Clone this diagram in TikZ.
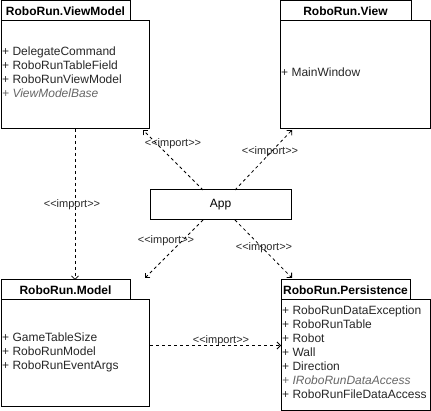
\documentclass[tikz,border=0pt]{standalone}
\usepackage{fontspec}
\setmainfont{Liberation Sans}
\usetikzlibrary{arrows.meta,calc}
\newcommand{\imp}{\textless\kern0pt\textless\kern0pt import\kern0pt\textgreater\kern0pt\textgreater}
\begin{document}
\begin{tikzpicture}[x=1pt,y=-1pt,
  box/.style={draw, line width=1pt, inner sep=0pt, outer sep=0pt, anchor=north west},
  tab/.style={box, font=\fontsize{12}{14}\selectfont\bfseries},
  items/.style={anchor=west, align=left, inner sep=0pt, text=black!85, font=\fontsize{12}{14}\selectfont},
  lbl/.style={inner sep=0pt, text=black!85, font=\fontsize{11}{13}\selectfont},
  imparrow/.style={draw, line width=0.8pt, dash pattern=on 3pt off 3pt, -{Straight Barb[length=3.5pt,width=7pt]}}]
\useasboundingbox (0,0) rectangle (431,411);
% ViewModel
\node[box, minimum width=148pt, minimum height=108pt] (vmbody) at (1,21) {};
\node[tab, minimum width=129pt, minimum height=20pt] (vmtab) at (1,1) {RoboRun.ViewModel};
\node[items] (vmitems) at (2,72) {+ DelegateCommand\\+ RoboRunTableField\\+ RoboRunViewModel\\{\color{black!60}\itshape + ViewModelBase}};
% View
\node[box, minimum width=150pt, minimum height=108pt] (vbody) at (280,21) {};
\node[tab, minimum width=131pt, minimum height=20pt] (vtab) at (280,1) {RoboRun.View};
\node[items] (vitems) at (281,72) {+ MainWindow};
% Model
\node[box, minimum width=148pt, minimum height=106pt] (mbody) at (1,300) {};
\node[tab, minimum width=129pt, minimum height=20pt] (mtab) at (1,280) {RoboRun.Model};
\node[items] (mitems) at (2,352) {+ GameTableSize\\+ RoboRunModel\\+ RoboRunEventArgs};
% Persistence
\node[box, minimum width=149pt, minimum height=110pt] (pbody) at (281,300) {};
\node[tab, minimum width=129pt, minimum height=20pt] (ptab) at (281,280) {RoboRun.Persistence};
\node[items] (pitems) at (282,352) {+ RoboRunDataException\\+ RoboRunTable\\+ Robot\\+ Wall\\+ Direction\\{\color{black!60}\itshape + IRoboRunDataAccess}\\+ RoboRunFileDataAccess};
% App
\node[box, minimum width=141pt, minimum height=30pt, font=\fontsize{12}{14}\selectfont] (app) at (150,190) {App};
% connectors
\draw[imparrow] ($(vmbody.south west)+(74,0)$) -- ($(mtab.north west)+(74,0)$);
\draw[imparrow] ($(app.north west)+(53,0)$) -- ($(vmbody.south east)+(-6,1)$);
\draw[imparrow] ($(app.north west)+(85,0)$) -- ($(vbody.south west)+(12,1)$);
\draw[imparrow] ($(app.south west)+(53,0)$) -- ($(mtab.north east)+(15,-2)$);
\draw[imparrow] ($(app.south west)+(85,0)$) -- ($(ptab.north west)+(11,-2)$);
\draw[imparrow] ($(mbody.north east)+(1,45.5)$) -- ($(pbody.north west)+(0,45.5)$);
% labels
\node[lbl] (l1) at (72,205) {\imp};
\node[lbl] (l2) at (173,144) {\imp};
\node[lbl] (l3) at (270,152) {\imp};
\node[lbl] (l4) at (166,241) {\imp};
\node[lbl] (l5) at (264,248) {\imp};
\node[lbl] (l6) at (221,341) {\imp};
\end{tikzpicture}
\end{document}
